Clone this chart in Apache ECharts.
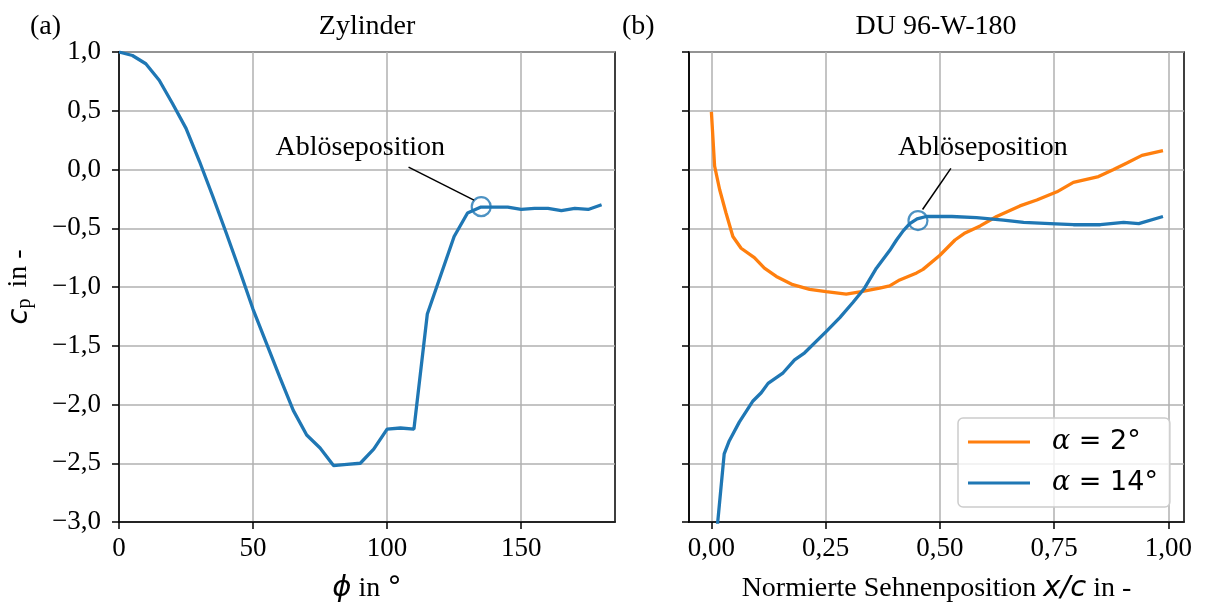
<!DOCTYPE html>
<html>
<head>
<meta charset="utf-8">
<title>cp Verteilung</title>
<script src="https://cdn.jsdelivr.net/npm/echarts@6/dist/echarts.min.js"></script>
<style>
  html, body { margin: 0; padding: 0; background: #fff; }
  #chart { width: 1205px; height: 608px; }
</style>
</head>
<body>
<div id="chart"></div>
<script>
// (a) Zylinder: Umfangswinkel phi in Grad und cp
const phi = [0, 5, 10, 15, 20, 25, 30, 35, 40, 45, 50, 55, 60, 65, 70, 75, 80, 85, 90,
  95, 100, 105, 110, 115, 120, 125, 130, 135, 140, 145, 150, 155, 160, 165, 170, 175, 180]
const cpZylinder = [1.00, 0.97, 0.90, 0.76, 0.56, 0.35, 0.07, -0.23, -0.54, -0.86, -1.19, -1.48,
  -1.77, -2.05, -2.26, -2.37, -2.52, -2.51, -2.50, -2.38, -2.21, -2.20, -2.21, -1.23, -0.90,
  -0.57, -0.37, -0.32, -0.32, -0.32, -0.34, -0.33, -0.33, -0.35, -0.33, -0.34, -0.30]

// (b) DU 96-W-180: normierte Sehnenposition x/c und cp
const xAlpha2 = [0, 0.007, 0.018, 0.032, 0.047, 0.065, 0.094, 0.116, 0.142, 0.178, 0.215, 0.251,
  0.295, 0.328, 0.368, 0.39, 0.412, 0.449, 0.463, 0.5, 0.533, 0.555, 0.588, 0.624, 0.675, 0.712,
  0.756, 0.792, 0.847, 0.88, 0.909, 0.942, 0.988]
const cpAlpha2 = [0.49, 0.03, -0.17, -0.37, -0.57, -0.67, -0.75, -0.84, -0.91, -0.98, -1.02, -1.04,
  -1.06, -1.04, -1.01, -0.99, -0.94, -0.88, -0.85, -0.73, -0.60, -0.54, -0.48, -0.40, -0.31, -0.26,
  -0.19, -0.11, -0.06, 0.00, 0.055, 0.12, 0.16]
const xAlpha14 = [0, 0.028, 0.039, 0.061, 0.091, 0.109, 0.124, 0.157, 0.182, 0.204, 0.251, 0.281,
  0.31, 0.335, 0.361, 0.39, 0.405, 0.42, 0.434, 0.45, 0.47, 0.49, 0.526, 0.58, 0.639, 0.683,
  0.741, 0.792, 0.851, 0.902, 0.935, 0.988]
const cpAlpha14 = [-3.57, -2.42, -2.31, -2.15, -1.97, -1.90, -1.82, -1.73, -1.62, -1.56, -1.38, -1.26,
  -1.13, -1.01, -0.84, -0.69, -0.60, -0.52, -0.46, -0.42, -0.40, -0.40, -0.40, -0.41, -0.43, -0.45,
  -0.46, -0.47, -0.47, -0.45, -0.46, -0.40]

const seriesNames = ['α = 2°', 'α = 14°']
const xTicksPhi = [0, 50, 100, 150]
const xTicksChord = [0, 0.25, 0.5, 0.75, 1]

// Ablöseposition: Kreis, Textmitte, Linie (Datenkoordinaten)
const sepZylinder = [135.1, -0.316]
const textZylinder = [90, 0.19]
const leaderZylinder = [[108, 0.02], [132.4, -0.26]]
const sepProfil = [0.452, -0.435]
const textProfil = [0.594, 0.19]
const leaderProfil = [[0.524, 0.01], [0.462, -0.34]]

const BLUE = '#1f77b4'
const ORANGE = '#ff7f0e'
const SERIF = '"Liberation Serif", "Times New Roman", serif'
const MATH = '"DejaVu Sans", sans-serif'

const zip = (xs, ys) => xs.map((x, i) => [x, ys[i]])
const deNum = (v, d) => (v < 0 ? '\u2212' : '') + Math.abs(v).toFixed(d).replace('.', ',')

const chart = echarts.init(document.getElementById('chart'))

const gridBase = { top: 52, height: 471, show: true, borderColor: '#000', borderWidth: 1.5, containLabel: false }
const axisLineStyle = { show: true, onZero: false, lineStyle: { color: '#000', width: 1.5 } }
const tickStyle = { show: true, length: 7, lineStyle: { color: '#000', width: 1.5 } }
const gridLineStyle = { show: true, lineStyle: { color: '#b0b0b0', width: 1.5 } }
const tickFont = { color: '#000', fontFamily: SERIF, fontSize: 27 }
const textFont = { color: '#000', fontFamily: SERIF, fontSize: 28, fontWeight: 'normal' }
const mathRich = { i: { fontFamily: MATH, fontStyle: 'italic', fontSize: 29, color: '#000' },
  m: { fontFamily: MATH, fontSize: 29, color: '#000' } }

const annoText = (pos) => ({
  symbol: 'circle', symbolSize: 0, silent: true,
  label: { show: true, position: 'inside', formatter: 'Ablöseposition', ...textFont },
  data: [{ coord: pos }]
})
const leader = (seg) => ({
  symbol: 'none', silent: true, animation: false,
  lineStyle: { color: '#000', width: 1.5, type: 'solid' },
  label: { show: false },
  data: [[{ coord: seg[0] }, { coord: seg[1] }]]
})

const option = {
  animation: false,
  backgroundColor: '#fff',
  title: [
    { text: '(a)', left: 30, top: 13, padding: 0, textStyle: textFont },
    { text: 'Zylinder', left: 367, top: 13, padding: 0, textAlign: 'center', textStyle: textFont },
    { text: '(b)', left: 622, top: 13, padding: 0, textStyle: textFont },
    { text: 'DU 96-W-180', left: 936, top: 13, padding: 0, textAlign: 'center', textStyle: textFont }
  ],
  legend: {
    data: seriesNames,
    orient: 'vertical',
    left: 958, top: 418,
    icon: 'rect', itemWidth: 62, itemHeight: 3, itemGap: 11,
    padding: [9, 12, 9, 10],
    backgroundColor: 'rgba(255,255,255,0.8)',
    borderColor: '#cccccc', borderWidth: 1.5, borderRadius: 5,
    formatter: name => '{a|α}' + name.slice(1),
    textStyle: {
      color: '#000', fontFamily: MATH, fontSize: 27, lineHeight: 30, padding: [0, 0, 0, 17],
      rich: { a: { fontFamily: '"DejaVu Serif", serif', fontStyle: 'italic', fontSize: 27, color: '#000' } }
    }
  },
  grid: [
    { ...gridBase, left: 119, width: 496 },
    { ...gridBase, left: 689, width: 495 }
  ],
  xAxis: [
    {
      gridIndex: 0, type: 'value', min: 0, max: 185,
      axisLine: axisLineStyle,
      axisTick: { ...tickStyle, customValues: xTicksPhi },
      splitLine: gridLineStyle,
      axisLabel: { ...tickFont, margin: 13, customValues: xTicksPhi, formatter: v => String(v) },
      name: '{i|ϕ} in {m|°}', nameLocation: 'middle', nameGap: 52,
      nameTextStyle: { ...textFont, rich: mathRich }
    },
    {
      gridIndex: 1, type: 'value', min: -0.049, max: 1.034,
      axisLine: axisLineStyle,
      axisTick: { ...tickStyle, customValues: xTicksChord },
      splitLine: gridLineStyle,
      axisLabel: { ...tickFont, margin: 13, customValues: xTicksChord, formatter: v => deNum(v, 2) },
      name: 'Normierte Sehnenposition {i|x/c} in -', nameLocation: 'middle', nameGap: 52,
      nameTextStyle: { ...textFont, rich: mathRich }
    }
  ],
  yAxis: [
    {
      gridIndex: 0, type: 'value', min: -3, max: 1, interval: 0.5,
      axisLine: axisLineStyle, axisTick: tickStyle, splitLine: gridLineStyle,
      axisLabel: { ...tickFont, margin: 18, formatter: v => deNum(v, 1) },
      name: '{c|c}{p|p} in -', nameLocation: 'middle', nameRotate: 90, nameGap: 84,
      nameTextStyle: {
        ...textFont,
        rich: {
          c: { fontFamily: MATH, fontStyle: 'italic', fontSize: 29, color: '#000' },
          p: { fontFamily: SERIF, fontSize: 20, color: '#000', padding: [12, 4, 0, 0] }
        }
      }
    },
    {
      gridIndex: 1, type: 'value', min: -3, max: 1, interval: 0.5,
      axisLine: axisLineStyle, axisTick: tickStyle, splitLine: gridLineStyle,
      axisLabel: { show: false }
    }
  ],
  series: [
    {
      name: 'Zylinder', type: 'line', xAxisIndex: 0, yAxisIndex: 0,
      data: zip(phi, cpZylinder), showSymbol: false, symbol: 'none',
      lineStyle: { color: BLUE, width: 3.3 }, itemStyle: { color: BLUE },
      markPoint: annoText(textZylinder), markLine: leader(leaderZylinder)
    },
    {
      name: 'Ablöse a', type: 'scatter', xAxisIndex: 0, yAxisIndex: 0,
      data: [sepZylinder], symbol: 'circle', symbolSize: 19,
      itemStyle: { color: 'rgba(0,0,0,0)', borderColor: BLUE, borderWidth: 2.2 }
    },
    {
      name: seriesNames[0], type: 'line', xAxisIndex: 1, yAxisIndex: 1,
      data: zip(xAlpha2, cpAlpha2), showSymbol: false, symbol: 'none',
      lineStyle: { color: ORANGE, width: 3.3 }, itemStyle: { color: ORANGE },
      markPoint: annoText(textProfil), markLine: leader(leaderProfil)
    },
    {
      name: seriesNames[1], type: 'line', xAxisIndex: 1, yAxisIndex: 1,
      data: zip(xAlpha14, cpAlpha14), showSymbol: false, symbol: 'none',
      lineStyle: { color: BLUE, width: 3.3 }, itemStyle: { color: BLUE }
    },
    {
      name: 'Ablöse b', type: 'scatter', xAxisIndex: 1, yAxisIndex: 1,
      data: [sepProfil], symbol: 'circle', symbolSize: 19,
      itemStyle: { color: 'rgba(0,0,0,0)', borderColor: BLUE, borderWidth: 2.2 }
    }
  ]
}

chart.setOption(option)
</script>
</body>
</html>
